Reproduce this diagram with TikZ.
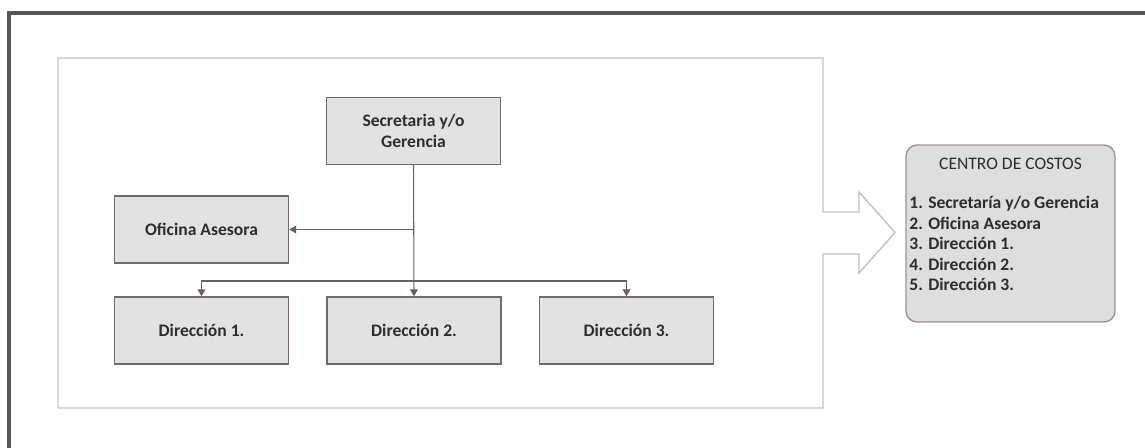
\documentclass[tikz,border=0pt]{standalone}
\usepackage{fontspec}
\setmainfont{Carlito}
\usepackage{tikz}
\usetikzlibrary{arrows.meta,positioning,calc}
\definecolor{boxgray}{RGB}{226,226,226}
\definecolor{boxline}{RGB}{118,104,104}
\definecolor{connline}{RGB}{105,95,95}
\definecolor{frameline}{RGB}{88,88,88}
\definecolor{panelline}{RGB}{200,192,192}
\definecolor{costfill}{RGB}{222,222,222}
\definecolor{costline}{RGB}{160,146,146}
\definecolor{txtgray}{RGB}{45,45,45}
\tikzset{
    orgbox/.style={rectangle, draw=boxline, line width=0.8pt, fill=boxgray, minimum width=3.48cm, minimum height=1.34cm, align=center, text=txtgray, font=\bfseries\fontsize{10}{11.5}\selectfont},
    connector/.style={draw=connline, line width=0.6pt, -{Triangle[width=4.5pt,length=4pt]}},
    costbox/.style={rectangle, draw=costline, line width=0.8pt, fill=costfill, rounded corners=0.22cm, minimum width=4.18cm, minimum height=3.54cm},
    costtext/.style={text=txtgray, inner sep=0pt, align=left}
}

\begin{document}
\begin{tikzpicture}[x=0.02cm, y=-0.02cm]
    \useasboundingbox (0,0) rectangle (1145,448);

    % Outer frame
    \draw[frameline, line width=1.8pt] (1145,13) -- (9,13) -- (9,448);

    % Panel with block arrow
    \draw[panelline, line width=0.8pt] (823,212) -- (823,58) -- (58,58) -- (58,408) -- (823,408) -- (823,254)
        -- (859,254) -- (859,273) -- (895,232.5) -- (859,192) -- (859,212) -- cycle;

    % Organisation chart
    \node [orgbox] (secre) at (413.5,131) {Secretaria y/o\\Gerencia};
    \node [orgbox] (ofic) at (201.5,229.5) {Oficina Asesora};
    \node [orgbox] (dir1) at (201.5,330.5) {Dirección 1.};
    \node [orgbox] (dir2) at (414,330.5) {Dirección 2.};
    \node [orgbox] (dir3) at (626.5,330.5) {Dirección 3.};
    \coordinate (bus) at (414,281);

    % Connections
    \path [connector] (secre.south) -- (dir2.north);
    \path [connector] (secre.south |- ofic.east) -- (ofic.east);
    \path [connector] (bus) -| (dir1.north);
    \path [connector] (bus) -| (dir3.north);

    % Cost centres
    \node [costbox] (centro) at (1010.5,233.5) {};
    \node [costtext, font=\fontsize{10}{11.7}\selectfont, anchor=north] (titulo) at ([yshift=-0.26cm]centro.north) {CENTRO DE COSTOS};
    \node [costtext, font=\bfseries\fontsize{10}{11.7}\selectfont, anchor=north west] (lista) at (909,196) {1. Secretaría y/o Gerencia\\2. Oficina Asesora\\3. Dirección 1.\\4. Dirección 2.\\5. Dirección 3.};
\end{tikzpicture}
\end{document}
